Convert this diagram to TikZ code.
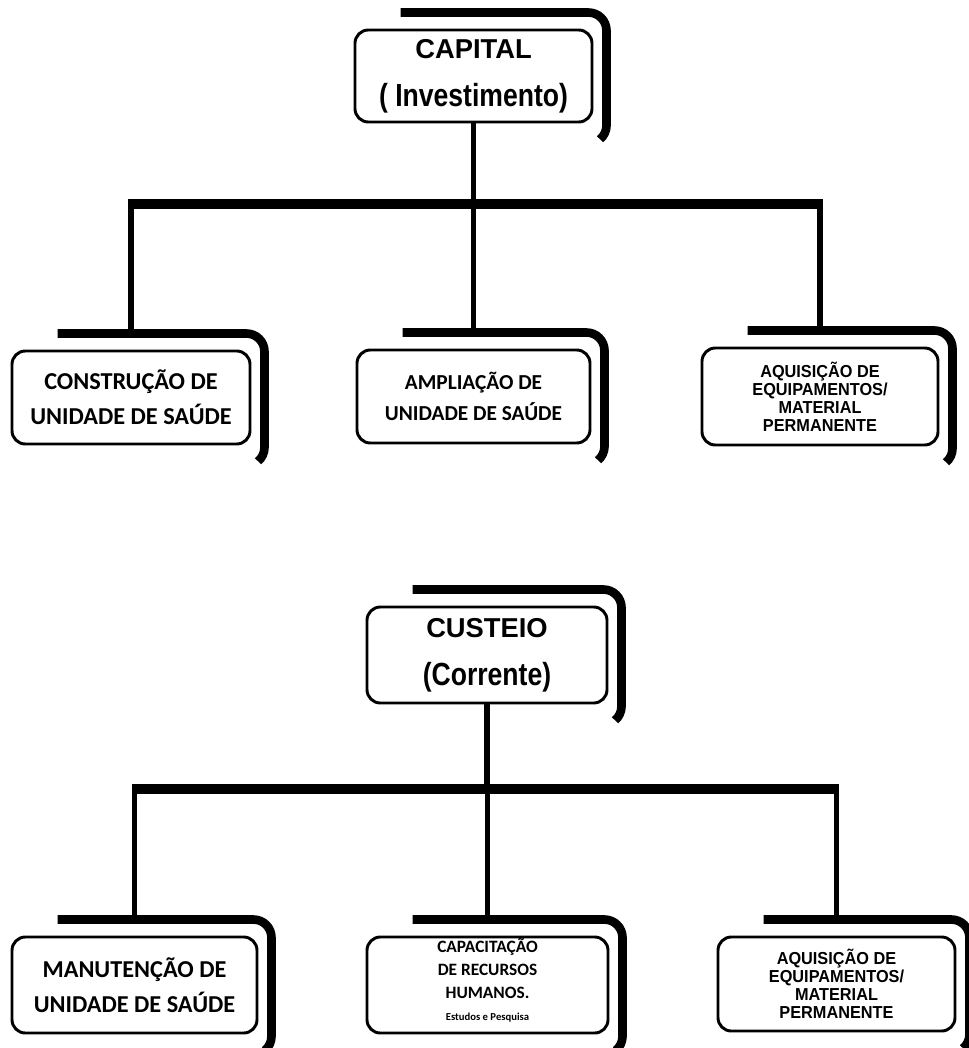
\documentclass[tikz,border=0pt]{standalone}
\usepackage{fontspec}
\setmainfont{Liberation Sans}
\newfontfamily\narrowfont[FakeStretch=0.83]{Liberation Sans}
\newfontfamily\boxnarrow[FakeStretch=0.94]{Liberation Sans}
\newfontfamily\calfont{Carlito}
\usepackage{tikz}
\tikzset{
box/.style={draw, line width=2.2pt, rounded corners=10pt, align=center, fill=white, inner sep=0pt},
dims/.style 2 args={minimum width=#1*0.75pt, minimum height=#2*0.75pt},
head/.style={font=\bfseries\fontsize{20.5pt}{36pt}\selectfont},
big/.style={font=\calfont\bfseries\fontsize{18.2pt}{26pt}\selectfont},
mid/.style={font=\calfont\bfseries\fontsize{16pt}{23pt}\selectfont},
small/.style={font=\calfont\bfseries\fontsize{13pt}{17pt}\selectfont},
tight/.style={font=\boxnarrow\bfseries\fontsize{13pt}{13.5pt}\selectfont},
frame/.style={line width=6.5pt},
stem/.style={line width=3.8pt},
bar/.style={line width=7pt},
}

\begin{document}
\begin{tikzpicture}[x=0.75pt,y=0.75pt]
\useasboundingbox (0,0) rectangle (969,-1048);

\node[box,head,dims={237}{92}](capital) at (473.5,-76) {CAPITAL\\{\narrowfont\fontsize{24pt}{28pt}\selectfont ( Investimento)}};
\node[box,big,dims={238}{93}](construcao) at (131,-397.5) {CONSTRUÇÃO DE\\UNIDADE DE SAÚDE};
\node[box,mid,dims={233}{93}](ampliacao) at (473.5,-396.5) {AMPLIAÇÃO DE\\UNIDADE DE SAÚDE};
\node[box,tight,dims={236}{97}](aquisicao_cap) at (820,-396.5) {AQUISIÇÃO DE\\EQUIPAMENTOS/\\MATERIAL\\PERMANENTE};

\node[box,head,dims={240}{96}](custeio) at (487,-655) {CUSTEIO\\{\narrowfont\fontsize{24pt}{28pt}\selectfont (Corrente)}};
\node[box,big,dims={245}{96}](manutencao) at (134.5,-985) {MANUTENÇÃO DE\\UNIDADE DE SAÚDE};
\node[box,small,dims={241}{96}](capacitacao) at (487.5,-985) {CAPACITAÇÃO\\DE RECURSOS\\HUMANOS.\\{\fontsize{8pt}{10pt}\selectfont Estudos e Pesquisa}\rule[-8pt]{0pt}{8pt}};
\node[box,tight,dims={237}{94}](aquisicao_cus) at (836.5,-984) {AQUISIÇÃO DE\\EQUIPAMENTOS/\\MATERIAL\\PERMANENTE};

\coordinate (split_capital) at (475,-204);
\coordinate (split_custeio) at (487,-789);

\draw [stem] (capital.south) -- (capital.south |- split_capital);
\draw [bar] ([xshift=-2pt]construcao.north |- split_capital) -- ([xshift=2pt]aquisicao_cap.north |- split_capital);
\foreach \n in {construcao,ampliacao,aquisicao_cap}
  \draw [stem] (\n.north |- split_capital) -- ([yshift=12pt]\n.north);

\draw [stem] (custeio.south) -- (custeio.south |- split_custeio);
\draw [bar] ([xshift=-2pt]manutencao.north |- split_custeio) -- ([xshift=2pt]aquisicao_cus.north |- split_custeio);
\foreach \n in {manutencao,capacitacao,aquisicao_cus}
  \draw [stem] (\n.north |- split_custeio) -- ([yshift=12pt]\n.north);

\foreach \n in {capital,construcao,ampliacao,aquisicao_cap,custeio,manutencao,capacitacao,aquisicao_cus}
  \draw [frame] ([shift={(47,16)}]\n.north west) -- ([shift={(-5,16)}]\n.north east)
    arc[start angle=90,end angle=0,radius=18] -- ([shift={(13,-2)}]\n.south east)
    arc[start angle=0,end angle=-50,radius=18];
\end{tikzpicture}
\end{document}
